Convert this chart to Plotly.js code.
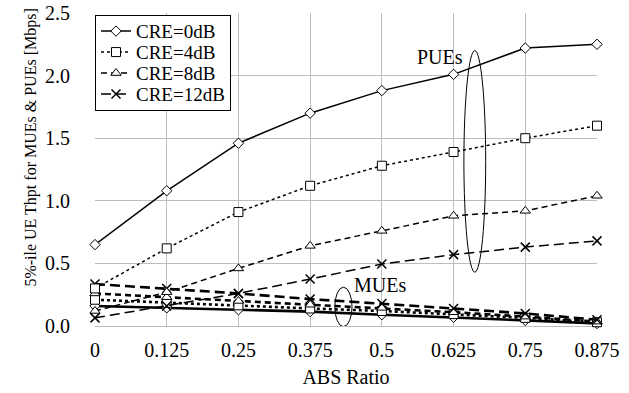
<!DOCTYPE html>
<html>
<head>
<meta charset="utf-8">
<script src="https://cdn.plot.ly/plotly-3.0.1.min.js"></script>
<style>
  html, body { margin: 0; padding: 0; background: #fff; }
  #chart { width: 629px; height: 393px; }
</style>
</head>
<body>
<div id="chart"></div>
<script>
// ABS ratio on the x axis
const absRatio = [0, 0.125, 0.25, 0.375, 0.5, 0.625, 0.75, 0.875];
const xTickText = ['0', '0.125', '0.25', '0.375', '0.5', '0.625', '0.75', '0.875'];

// 5%-ile throughput of pico UEs (PUEs), Mbps
const pue0dB  = [0.65, 1.08, 1.46, 1.70, 1.88, 2.01, 2.22, 2.25];
const pue4dB  = [0.30, 0.62, 0.91, 1.12, 1.28, 1.39, 1.50, 1.60];
const pue8dB  = [0.12, 0.27, 0.46, 0.64, 0.76, 0.88, 0.92, 1.04];
const pue12dB = [0.065, 0.16, 0.26, 0.375, 0.495, 0.57, 0.63, 0.68];

// 5%-ile throughput of macro UEs (MUEs), Mbps
const mue0dB  = [0.16, 0.145, 0.13, 0.115, 0.09, 0.07, 0.045, 0.02];
const mue4dB  = [0.21, 0.185, 0.165, 0.14, 0.12, 0.095, 0.065, 0.03];
const mue8dB  = [0.26, 0.23, 0.20, 0.17, 0.145, 0.11, 0.075, 0.035];
const mue12dB = [0.335, 0.30, 0.26, 0.215, 0.18, 0.14, 0.10, 0.05];

const legendNames = ['CRE=0dB', 'CRE=4dB', 'CRE=8dB', 'CRE=12dB'];

const styles = [
  { dash: 'solid',     marker: { symbol: 'diamond',     size: 8, color: '#fff', line: { color: '#000', width: 1 } } },
  { dash: 'dot',       marker: { symbol: 'square',      size: 9, color: '#fff', line: { color: '#000', width: 1 } } },
  { dash: '6px,4px',   marker: { symbol: 'triangle-up', size: 9, color: '#fff', line: { color: '#000', width: 1 } } },
  { dash: '10px,5px',  marker: { symbol: 'x-thin',      size: 9, color: '#000', line: { color: '#000', width: 1.5 } } }
];

const pueSets = [pue0dB, pue4dB, pue8dB, pue12dB];
const mueSets = [mue0dB, mue4dB, mue8dB, mue12dB];

const traces = [];
mueSets.forEach((ys, i) => {
  traces.push({
    x: absRatio, y: ys, type: 'scatter', mode: 'lines+markers',
    name: legendNames[i], showlegend: false, cliponaxis: false,
    line: { color: '#000', width: 2.6, dash: styles[i].dash },
    marker: styles[i].marker
  });
});
pueSets.forEach((ys, i) => {
  traces.push({
    x: absRatio, y: ys, type: 'scatter', mode: 'lines+markers',
    name: legendNames[i], cliponaxis: false,
    line: { color: '#000', width: 1.5, dash: styles[i].dash },
    marker: styles[i].marker
  });
});

const serif = "'Liberation Serif'";

const layout = {
  width: 629, height: 393,
  margin: { l: 95, r: 32, t: 13, b: 67 },
  paper_bgcolor: '#fff', plot_bgcolor: '#fff',
  font: { family: serif, size: 20, color: '#000' },
  showlegend: true,
  legend: {
    x: 0, y: 0.995, xanchor: 'left', yanchor: 'top',
    bgcolor: '#fff', bordercolor: '#000', borderwidth: 1,
    font: { family: serif, size: 19, color: '#000' },
    itemwidth: 30, tracegroupgap: 0
  },
  xaxis: {
    range: [0, 0.875],
    tickvals: absRatio, ticktext: xTickText,
    showgrid: true, gridcolor: '#bdbdbd', gridwidth: 1,
    zeroline: false, showline: false,
    ticks: '', ticklen: 0, ticklabelstandoff: 10,
    tickfont: { family: serif, size: 20, color: '#000' },
    title: { text: 'ABS Ratio', font: { family: serif, size: 20, color: '#000' }, standoff: 9 }
  },
  yaxis: {
    range: [0, 2.5], dtick: 0.5, tickformat: '.1f',
    showgrid: true, gridcolor: '#bdbdbd', gridwidth: 1,
    zeroline: true, zerolinecolor: '#bdbdbd', zerolinewidth: 1,
    showline: false, ticks: '', ticklabelstandoff: 24,
    tickfont: { family: serif, size: 20, color: '#000' }
  },
  shapes: [
    { type: 'circle', xref: 'x', yref: 'y', x0: 0.643, x1: 0.681, y0: 0.43, y1: 2.20,
      line: { color: '#000', width: 1 }, fillcolor: 'rgba(0,0,0,0)' },
    { type: 'circle', xref: 'x', yref: 'y', x0: 0.418, x1: 0.448, y0: -0.005, y1: 0.31,
      line: { color: '#000', width: 1 }, fillcolor: 'rgba(0,0,0,0)' }
  ],
  annotations: [
    // y-axis title, placed along the left margin
    { xref: 'paper', yref: 'paper', x: 0, y: 0.57, xshift: -75, textangle: -90,
      text: '5%-ile UE Thpt for MUEs &amp; PUEs [Mbps]', showarrow: false,
      font: { family: serif, size: 16, color: '#000' } },
    { x: 0.601, y: 2.15, xref: 'x', yref: 'y', text: 'PUEs', showarrow: false,
      font: { family: serif, size: 20, color: '#000' } },
    { x: 0.497, y: 0.33, xref: 'x', yref: 'y', text: 'MUEs', showarrow: false,
      font: { family: serif, size: 20, color: '#000' } }
  ]
};

// Tighten the legend rows to a compact spacing after Plotly lays them out
function compactLegend(gd, rowGap) {
  const leg = gd.querySelector('.legend');
  if (!leg) return;
  const items = Array.from(leg.querySelectorAll('g.traces'));
  if (items.length < 2) return;
  const pos = el => {
    const m = /translate\(\s*([-\d.e]+)[\s,]+([-\d.e]+)\s*\)/.exec(el.getAttribute('transform') || '');
    return m ? [parseFloat(m[1]), parseFloat(m[2])] : [0, 0];
  };
  const p0 = pos(items[0]);
  const oldGap = pos(items[1])[1] - p0[1];
  const topShift = (oldGap - rowGap) / 2;
  items.forEach((el, i) => {
    const p = pos(el);
    el.setAttribute('transform', `translate(${p[0]},${p0[1] - topShift + i * rowGap})`);
  });
  const bg = leg.querySelector('rect.bg');
  if (bg) {
    const h = parseFloat(bg.getAttribute('height'));
    bg.setAttribute('height', h - (oldGap - rowGap) * items.length);
  }
}

Plotly.newPlot('chart', traces, layout, { displayModeBar: false, staticPlot: true })
  .then(gd => compactLegend(gd, 21));
</script>
</body>
</html>
